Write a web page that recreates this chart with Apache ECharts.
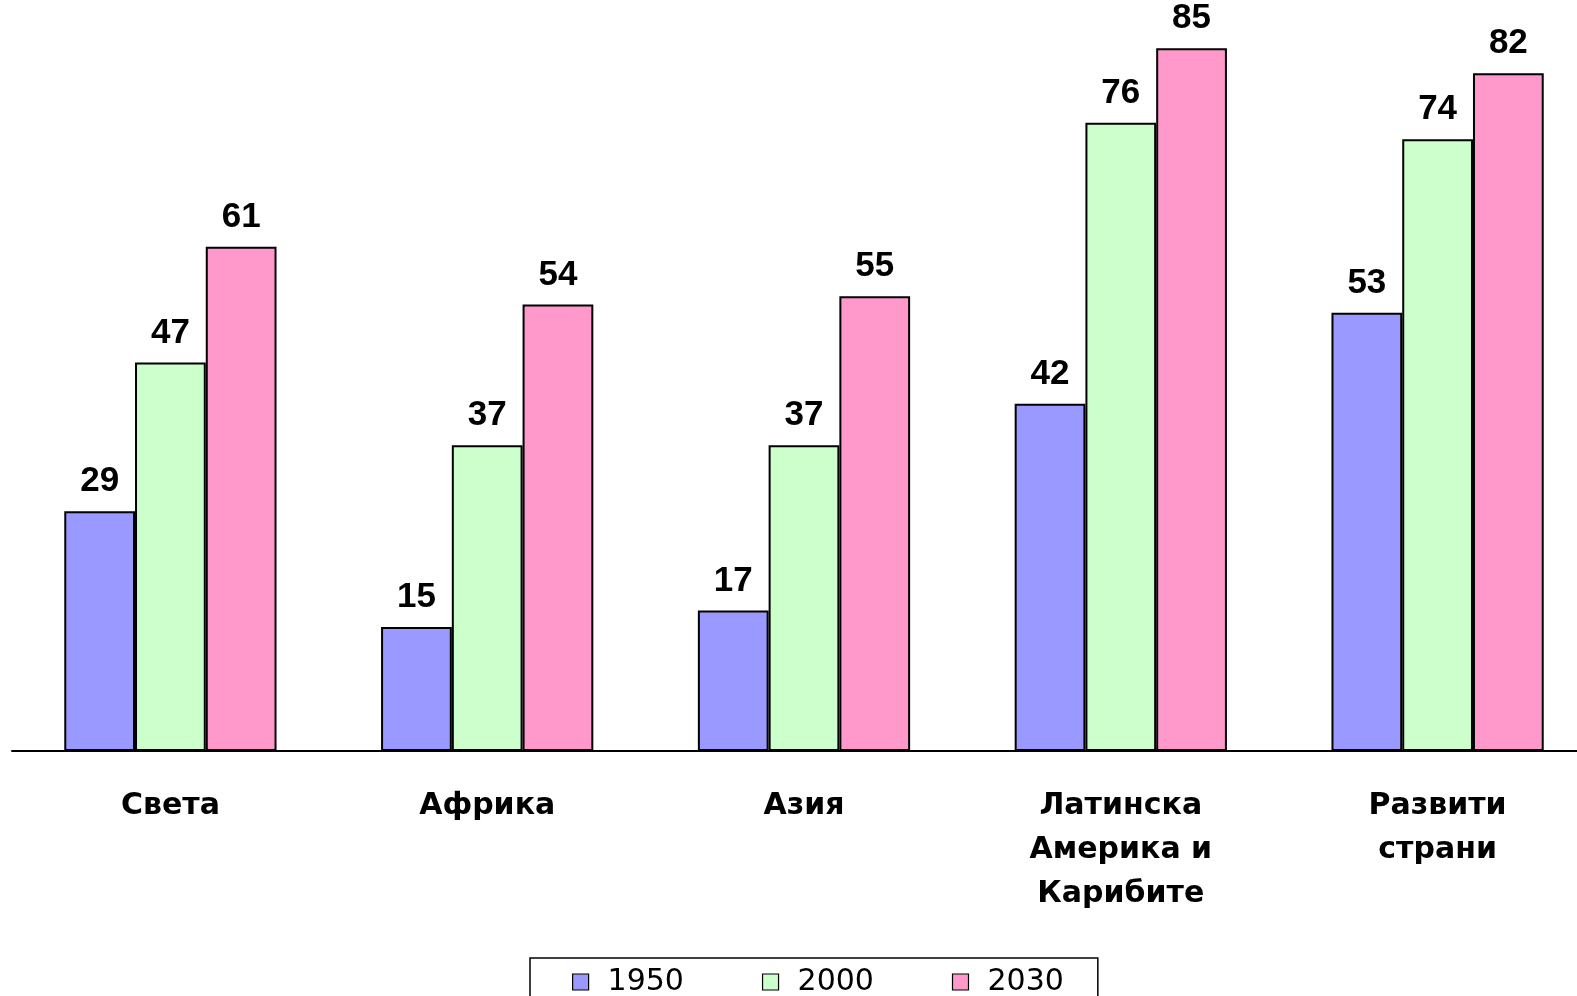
<!DOCTYPE html>
<html>
<head>
<meta charset="utf-8">
<script src="https://cdn.jsdelivr.net/npm/echarts@6/dist/echarts.min.js"></script>
<style>
  html, body { margin: 0; padding: 0; background: #fff; }
  #chart { width: 1577px; height: 996px; }
</style>
</head>
<body>
<div id="chart"></div>
<script>
// regions (x axis) and the three years
const categories = ["Света", "Африка", "Азия", "Латинска\nАмерика и\nКарибите", "Развити\nстрани"];
const years = ["1950", "2000", "2030"];
const values1950 = [29, 15, 17, 42, 53];
const values2000 = [47, 37, 37, 76, 74];
const values2030 = [61, 54, 55, 85, 82];
const colors = ["#9999FF", "#CCFFCC", "#FF99CC"];

const numFont = "'Liberation Sans', Arial, sans-serif";
const textFont = "'DejaVu Sans', sans-serif";

let myChart = echarts.init(document.getElementById("chart"));

function makeSeries(name, data, color) {
  return {
    name: name,
    type: "bar",
    data: data,
    barGap: "0%",
    barCategoryGap: "33%",
    itemStyle: {
      color: color,
      borderColor: "#000",
      borderWidth: 2
    },
    label: {
      show: true,
      position: "top",
      distance: 12,
      fontFamily: numFont,
      fontWeight: "bold",
      fontSize: 35,
      color: "#000"
    }
  };
}

myChart.setOption({
  animation: false,
  backgroundColor: "#fff",
  grid: {
    left: 12,
    width: 1584,
    top: 7,
    bottom: 245,
    containLabel: false,
    outerBoundsMode: "none"
  },
  legend: {
    data: years,
    top: 958,
    left: 530,
    orient: "horizontal",
    padding: [9, 34, 30, 42],
    itemGap: 78,
    itemWidth: 16,
    itemHeight: 16,
    icon: "rect",
    itemStyle: {
      borderColor: "#000",
      borderWidth: 1.2
    },
    borderColor: "#000",
    borderWidth: 1.5,
    textStyle: {
      fontFamily: textFont,
      fontSize: 30,
      color: "#000",
      padding: [0, 0, 0, 14]
    }
  },
  xAxis: {
    type: "category",
    data: categories,
    axisLine: { show: true, lineStyle: { color: "#000", width: 2 } },
    axisTick: { show: false },
    axisLabel: {
      interval: 0,
      margin: 33,
      fontFamily: textFont,
      fontWeight: "bold",
      fontSize: 30,
      lineHeight: 44,
      color: "#000"
    }
  },
  yAxis: {
    type: "value",
    min: 0,
    max: 90,
    show: false,
    splitLine: { show: false }
  },
  series: [
    makeSeries(years[0], values1950, colors[0]),
    makeSeries(years[1], values2000, colors[1]),
    makeSeries(years[2], values2030, colors[2])
  ]
});
</script>
</body>
</html>
